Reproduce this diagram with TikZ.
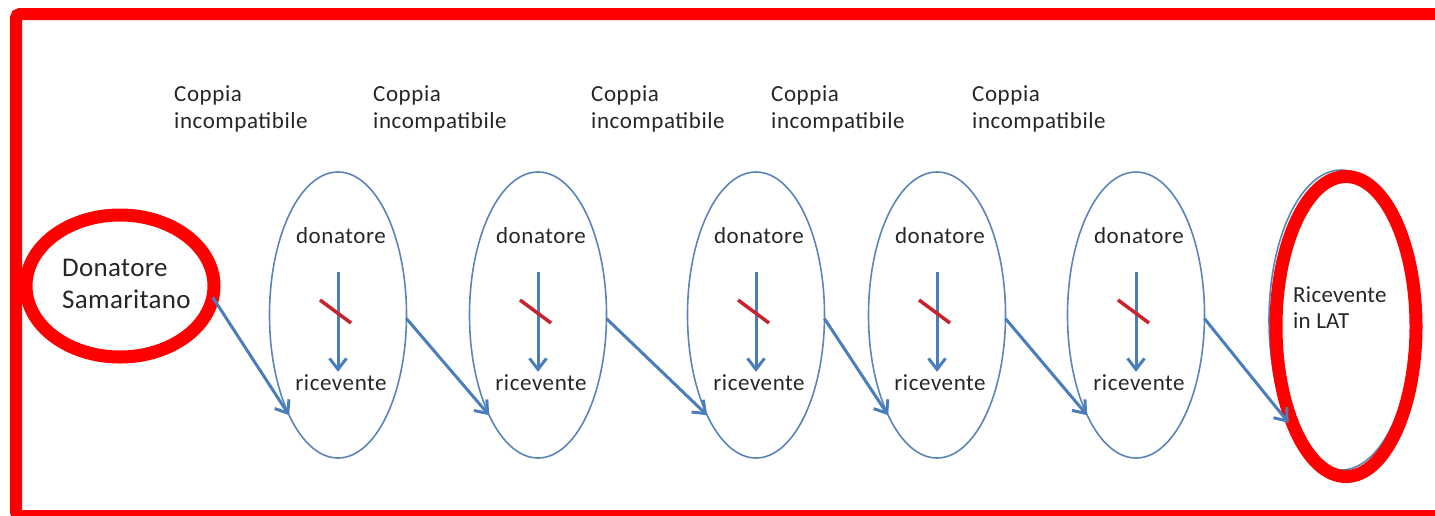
\documentclass[tikz,border=0pt]{standalone}
\usepackage{fontspec}
\setmainfont{Carlito}
\newfontfamily\spaced[LetterSpace=2.5]{Carlito}
\newfontfamily\lightspaced[LetterSpace=1.2]{Carlito}
\usetikzlibrary{shapes.geometric,arrows.meta}
\definecolor{eblue}{HTML}{5B84B8}
\definecolor{ablue}{HTML}{4A7EBB}
\definecolor{slashred}{HTML}{C8232C}
\definecolor{txt}{HTML}{262626}
\begin{document}
\begin{tikzpicture}[x=1pt,y=-1pt,
  pair/.style={ellipse,draw=eblue,line width=1.6pt,minimum width=137pt,minimum height=286pt,inner sep=0pt,outer sep=0pt},
  redring/.style={ellipse,draw=red,line width=13pt,inner sep=0pt,outer sep=0pt},
  lbl/.style={text=txt,font=\spaced\fontsize{23}{27.5}\selectfont,inner sep=0pt,align=left,anchor=base west},
  role/.style={text=txt,font=\spaced\fontsize{23}{28}\selectfont,inner sep=0pt,anchor=base,text height=16pt,text depth=5pt},
  link/.style={draw=ablue,line width=3pt,-{Straight Barb[length=11pt,width=17pt,line width=3pt]}},
  inner/.style={draw=ablue,line width=3pt,-{Straight Barb[length=11pt,width=17pt,line width=3pt]},shorten <=24pt,shorten >=2pt},
  cross/.style={draw=slashred,line width=3.5pt}
]
\useasboundingbox (0,0) rectangle (1435,515);
\begin{scope}
\clip (0,0) rectangle (1435,515);
\draw[red,line width=12pt,rounded corners=4pt] (16,14) rectangle (1460,516);
\end{scope}

% headings
\node[lbl] (h1) at (174,128.5) {Coppia\\incompatibile};
\node[lbl] (h2) at (373,128.5) {Coppia\\incompatibile};
\node[lbl] (h3) at (591,128.5) {Coppia\\incompatibile};
\node[lbl] (h4) at (771,128.5) {Coppia\\incompatibile};
\node[lbl] (h5) at (972,128.5) {Coppia\\incompatibile};

% pair ellipses
\node[pair] (e1) at (338,315) {};
\node[pair] (e2) at (538,315) {};
\node[pair] (e3) at (756,315) {};
\node[pair] (e4) at (937,315) {};
\node[pair] (e5) at (1136,315) {};
\node[pair,minimum width=144pt,minimum height=300pt] (e6) at (1341,320) {};

\foreach \i/\cx in {1/338,2/538,3/756,4/937,5/1136}{
  \node[role] (d\i) at (\cx+3,243) {donatore};
  \node[role] (r\i) at (\cx+3,390) {ricevente};
  \draw[inner] (e\i |- d\i.south) -- (e\i |- r\i.north);
  \draw[cross] ([shift={(-18,-15)}]e\i.center) -- ([shift={(13,8)}]e\i.center);
}

% red rings
\node[redring,minimum width=188pt,minimum height=142pt] (ds) at (120,286) {};
\node[redring,minimum width=140pt,minimum height=300pt] (lat) at (1346,326.5) {};
\node[text=txt,font=\lightspaced\fontsize{27}{32}\selectfont,inner sep=0pt,align=left,anchor=base west] (dst) at (62,308) {Donatore\\Samaritano};
\node[text=txt,font=\lightspaced\fontsize{23}{25.5}\selectfont,inner sep=0pt,align=left,anchor=base west] (latt) at (1293,328) {Ricevente\\in LAT};

% chain
\draw[link] (ds.-7) -- (e1.-116);
\draw[link] (e1.-3) -- (e2.-116);
\draw[link] (e2.-3) -- (e3.-116);
\draw[link] (e3.-3) -- (e4.-116);
\draw[link] (e4.-3) -- (e5.-116);
\draw[link] (e5.-3) -- (e6.-117);
\end{tikzpicture}
\end{document}
